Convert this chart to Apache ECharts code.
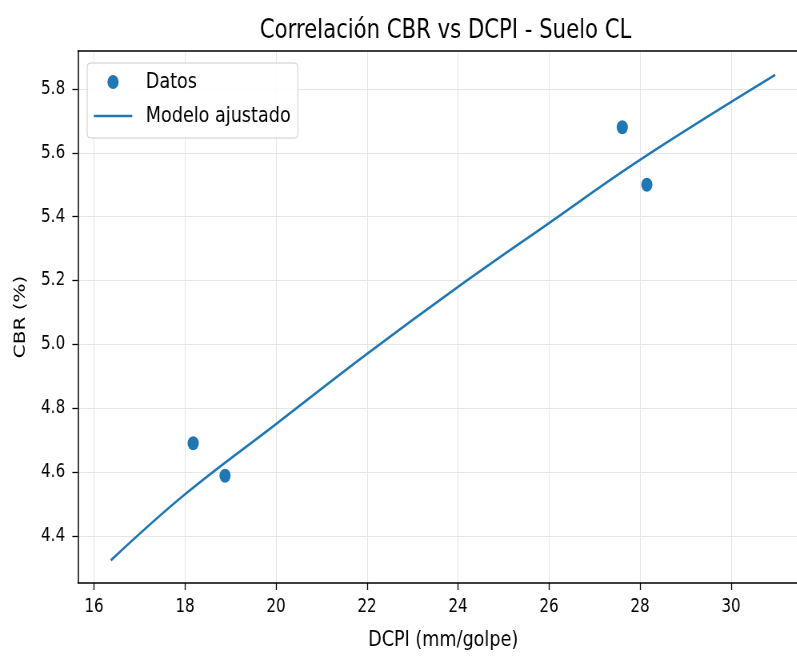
<!DOCTYPE html>
<html>
<head>
<meta charset="utf-8">
<script src="https://cdn.jsdelivr.net/npm/echarts@6/dist/echarts.min.js"></script>
<style>
html, body { margin: 0; padding: 0; overflow: hidden; background: #fff; }
/* the reference is squeezed sideways, so draw wide and scale down */
#chart { width: 996px; height: 656px; transform: scaleX(0.8); transform-origin: 0 0; }
</style>
</head>
<body>
<div id="chart"></div>
<script>
// measured points
const datosX = [18.18, 18.88, 27.61, 28.15]
const datosY = [4.69, 4.588, 5.68, 5.50]

// fitted curve
const modeloX = [16.37, 18, 20, 22, 24, 26, 28, 30.97]
const modeloY = [4.323, 4.53, 4.75, 4.97, 5.18, 5.38, 5.578, 5.844]

// tick labels
const xTicks = [16, 18, 20, 22, 24, 26, 28, 30]
const yTicks = [4.4, 4.6, 4.8, 5.0, 5.2, 5.4, 5.6, 5.8]

const azul = "#1f77b4"
const fuente = "DejaVu Sans"
const xMin = 15.648
const xMax = 31.70

let myChart = echarts.init(document.getElementById("chart"), null, { renderer: "canvas" })
myChart.setOption({
    animation: false,
    textStyle: { fontFamily: fuente },
    title: {
        text: "Correlación CBR vs DCPI - Suelo CL",
        left: 552,
        top: 13,
        textAlign: "center",
        textStyle: { fontFamily: fuente, fontSize: 26.5, fontWeight: "normal", color: "#000" }
    },
    legend: {
        orient: "vertical",
        left: 109,
        top: 63,
        padding: [8, 9, 11, 7],
        itemGap: 12,
        itemWidth: 48,
        itemHeight: 14,
        backgroundColor: "rgba(255,255,255,0.85)",
        borderColor: "#cccccc",
        borderWidth: 1,
        borderRadius: 4,
        textStyle: { fontFamily: fuente, fontSize: 22, color: "#000", padding: [0, 0, 0, 12] },
        data: [
            { name: "Datos" },
            // line only, no marker on the icon
            { name: "Modelo ajustado", itemStyle: { opacity: 0 }, lineStyle: { width: 2.6, color: azul } }
        ]
    },
    grid: {
        show: false,
        left: 97.5,
        top: 51,
        bottom: 73,
        width: 913,
        outerBoundsMode: "none",
        containLabel: false
    },
    xAxis: [
        {
            type: "value",
            min: xMin,
            max: xMax,
            name: "DCPI (mm/golpe)",
            nameLocation: "middle",
            nameGap: 46,
            nameTextStyle: { fontFamily: fuente, fontSize: 22, color: "#000" },
            axisLine: { show: true, lineStyle: { color: "#000", width: 1.5 } },
            axisTick: { show: true, length: 7, customValues: xTicks, lineStyle: { color: "#000", width: 1.3 } },
            axisLabel: { customValues: xTicks, margin: 15, fontFamily: fuente, fontSize: 19, color: "#000" },
            splitLine: { show: true, lineStyle: { color: "#e6e6e6", width: 1 } }
        },
        {
            // top frame line only
            type: "value",
            position: "top",
            min: xMin,
            max: xMax,
            axisLine: { show: true, onZero: false, lineStyle: { color: "#000", width: 1.5 } },
            axisTick: { show: false },
            axisLabel: { show: false },
            splitLine: { show: false }
        }
    ],
    yAxis: {
        type: "value",
        min: 4.252,
        max: 5.919,
        name: "CBR (%)",
        nameLocation: "middle",
        nameGap: 62,
        nameTextStyle: { fontFamily: fuente, fontSize: 20, color: "#000" },
        axisLine: { show: true, onZero: false, lineStyle: { color: "#000", width: 1.5 } },
        axisTick: { show: true, length: 7, customValues: yTicks, lineStyle: { color: "#000", width: 1.3 } },
        axisLabel: {
            customValues: yTicks,
            margin: 16,
            fontFamily: fuente,
            fontSize: 19,
            color: "#000",
            formatter: v => v.toFixed(1)
        },
        splitLine: { show: true, lineStyle: { color: "#e6e6e6", width: 1 } }
    },
    series: [
        {
            name: "Datos",
            type: "scatter",
            symbol: "circle",
            symbolSize: 14,
            itemStyle: { color: azul, opacity: 1 },
            data: datosX.map((x, i) => [x, datosY[i]]),
            z: 3
        },
        {
            name: "Modelo ajustado",
            type: "line",
            symbol: "none",
            smooth: 0.4,
            lineStyle: { color: azul, width: 2.6 },
            itemStyle: { color: azul },
            data: modeloX.map((x, i) => [x, modeloY[i]]),
            z: 2
        }
    ]
})
</script>
</body>
</html>
